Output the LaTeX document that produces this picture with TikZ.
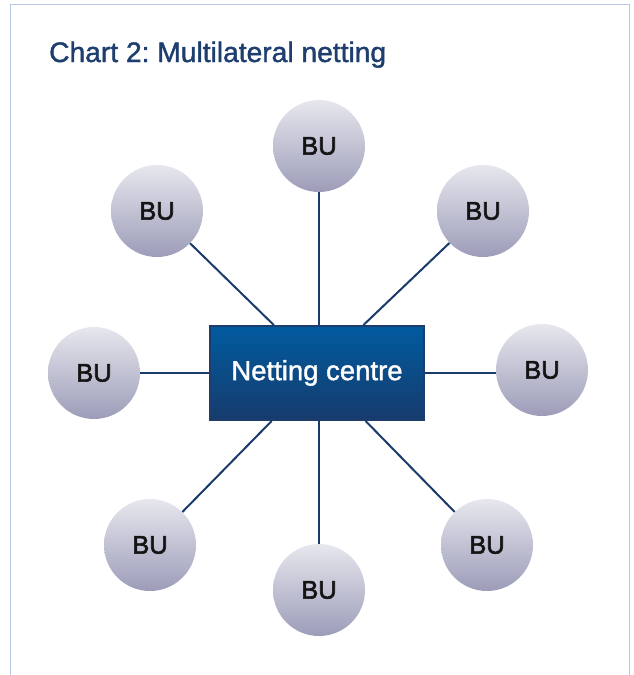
\documentclass[tikz,border=0pt]{standalone}
\usepackage{fontspec}
\setmainfont{Liberation Sans}
\newfontfamily\medfont[FakeBold=1.4]{Liberation Sans}
\newfontfamily\semifont[FakeBold=2.4]{Liberation Sans}
\usetikzlibrary{calc}
\frenchspacing
\definecolor{framecol}{HTML}{B7C8E6}
\definecolor{titlecol}{HTML}{1D3E6E}
\definecolor{linkcol}{HTML}{1B3B6B}
\definecolor{boxtop}{HTML}{005B9F}
\definecolor{boxbot}{HTML}{173B6D}
\definecolor{boxedge}{HTML}{1E3C6C}
\definecolor{butop}{HTML}{E7E7EE}
\definecolor{bumid}{HTML}{D9D9E3}
\definecolor{bubot}{HTML}{9C9CB9}
\tikzset{
  bunit/.style={circle, minimum size=92pt, inner sep=0pt,
    top color=butop, middle color=bumid, bottom color=bubot,
    text=black!92, font=\semifont\fontsize{25.5}{30}\selectfont},
  centrebox/.style={rectangle, minimum width=214pt, minimum height=94pt,
    inner sep=0pt, top color=boxtop, bottom color=boxbot,
    draw=boxedge, line width=2pt, text=white,
    font=\medfont\fontsize{27.5}{32}\selectfont},
  link/.style={draw=linkcol, line width=2pt},
  frameline/.style={draw=framecol, line width=1pt}
}
\begin{document}
\begin{tikzpicture}[x=1pt,y=-1pt]
\useasboundingbox (0,0) rectangle (634,675);
% open frame
\draw[frameline] (10,675) -- (10,4.5) -- (629,4.5) -- (629,675);
% title
\node[anchor=base west, inner sep=0pt, text=titlecol,
  font=\medfont\fontsize{28.2}{32}\selectfont] (title) at (49,62) {Chart 2: Multilateral netting};
% centre and business units
\node[centrebox] (box) at (317,373) {Netting centre};
\node[bunit] (bt)  at (319,146) {BU};
\node[bunit] (bul) at (157,211) {BU};
\node[bunit] (bur) at (483,211) {BU};
\node[bunit] (bl)  at (94,373)  {BU};
\node[bunit] (br)  at (542,370) {BU};
\node[bunit] (bdl) at (150,545) {BU};
\node[bunit] (bdr) at (487,545) {BU};
\node[bunit] (bb)  at (319,590) {BU};
% connectors
\draw[link] (bt) -- (bt |- box.north);
\draw[link] (bul) -- ($(box.north west)!0.3!(box.north east)$);
\draw[link] (bur) -- ($(box.north west)!0.715!(box.north east)$);
\draw[link] (box.west) -- (box.west -| bl.east);
\draw[link] (box.east) -- (box.east -| br.west);
\draw[link] (bdl) -- ($(box.south west)!0.29!(box.south east)$);
\draw[link] (bdr) -- ($(box.south west)!0.725!(box.south east)$);
\draw[link] (bb) -- (bb |- box.south);
\end{tikzpicture}
\end{document}
